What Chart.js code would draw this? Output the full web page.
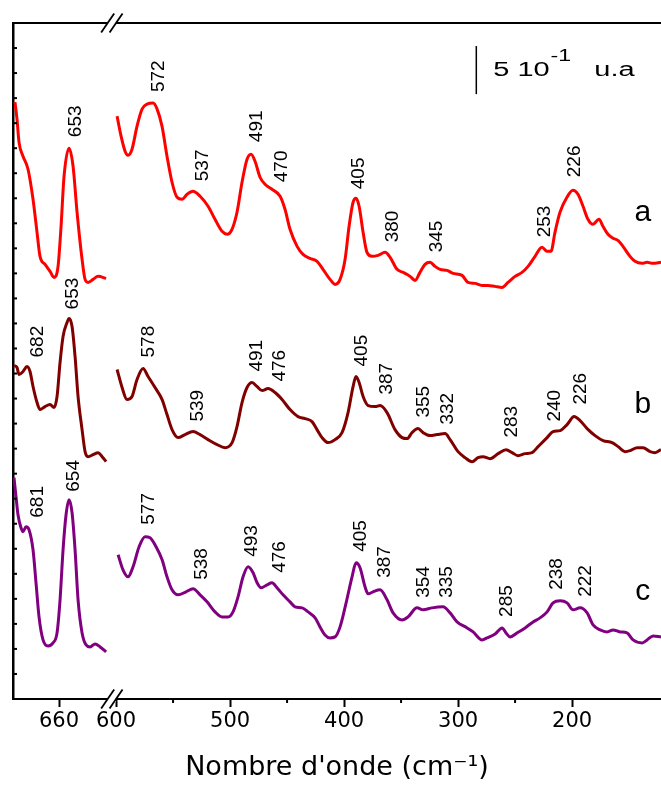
<!DOCTYPE html>
<html><head><meta charset="utf-8">
<script src="https://cdn.jsdelivr.net/npm/chart.js@4.4.1/dist/chart.umd.min.js"></script>
<style>html,body{margin:0;padding:0;background:#fff;}#wrap{position:relative;width:661px;height:785px;}</style>
</head><body><div id="wrap"><canvas id="c"></canvas></div>
<script>
// ---------- data (wavenumber in cm-1, intensity in arbitrary offset units) ----------
const aLeftWn = [690.8, 689.4, 688.0, 685.2, 681.7, 678.2, 675.4, 673.3, 669.8, 666.3, 663.5, 660.7, 658.6, 656.5, 653.0, 650.2, 647.4, 643.9, 641.8, 639.7, 636.2, 632.7, 627.1];
const aLeftI  = [23.84, 23.16, 22.24, 21.68, 21.16, 19.96, 18.64, 17.68, 17.36, 17.08, 16.84, 17.28, 18.88, 20.88, 22.0, 21.28, 19.44, 17.56, 16.76, 16.64, 16.76, 16.88, 16.8];
const aRightWn = [599.1, 595.6, 592.1, 589.5, 586.0, 581.6, 577.2, 572.8, 567.5, 564.0, 559.7, 555.3, 550.9, 546.5, 542.1, 537.7, 532.5, 526.3, 519.3, 513.2, 507.0, 502.6, 498.3, 493.9, 489.5, 485.1, 481.6, 478.1, 473.7, 469.3, 463.2, 456.1, 451.8, 447.4, 441.2, 436.0, 429.9, 423.7, 418.5, 412.3, 407.9, 403.5, 399.1, 395.6, 392.1, 389.5, 386.8, 383.3, 379.9, 375.4, 370.2, 364.0, 359.6, 353.5, 348.2, 342.1, 337.7, 333.4, 329.0, 324.6, 320.2, 315.8, 309.7, 304.4, 296.5, 291.3, 285.1, 279.0, 273.7, 267.6, 261.4, 256.2, 250.0, 243.9, 238.6, 232.5, 226.4, 222.0, 218.5, 215.0, 210.6, 204.5, 199.2, 194.8, 190.4, 186.1, 181.7, 176.4, 172.9, 168.5, 164.1, 159.8, 155.4, 149.2, 144.8, 138.7, 134.3, 129.1, 122.0];
const aRightI  = [23.28, 22.48, 21.88, 21.72, 21.96, 22.88, 23.56, 23.76, 23.80, 23.56, 22.88, 21.68, 20.64, 20.04, 19.96, 20.16, 20.28, 20.08, 19.68, 19.16, 18.68, 18.56, 18.76, 19.44, 20.64, 21.56, 21.76, 21.48, 20.84, 20.56, 20.36, 20.08, 19.56, 18.76, 18.08, 17.76, 17.60, 17.48, 17.16, 16.76, 16.56, 16.76, 17.56, 18.88, 19.84, 20.00, 19.68, 18.64, 17.84, 17.68, 17.72, 17.84, 17.64, 17.16, 17.04, 16.88, 16.72, 17.04, 17.36, 17.44, 17.28, 17.16, 17.12, 17.00, 16.92, 16.64, 16.60, 16.52, 16.52, 16.48, 16.44, 16.64, 16.88, 17.04, 17.28, 17.68, 18.04, 17.88, 17.88, 18.64, 19.44, 20.04, 20.32, 20.16, 19.68, 19.16, 18.96, 19.16, 18.88, 18.56, 18.40, 18.32, 18.08, 17.68, 17.48, 17.40, 17.44, 17.40, 17.44];

const bLeftWn = [691.5, 689.4, 688.0, 685.2, 682.4, 680.3, 678.2, 675.4, 673.3, 669.8, 666.3, 663.5, 661.4, 659.3, 657.2, 654.4, 653.0, 650.9, 648.8, 646.7, 643.9, 641.8, 639.7, 636.2, 632.7, 629.9, 627.1];
const bLeftI  = [13.32, 13.24, 12.96, 13.08, 13.28, 13.08, 12.48, 11.84, 11.56, 11.68, 11.76, 11.64, 12.08, 13.44, 14.48, 15.04, 15.20, 14.88, 13.68, 12.08, 10.76, 9.88, 9.68, 9.76, 9.84, 9.68, 9.48];
const bRightWn = [599.1, 594.7, 590.4, 586.0, 581.6, 576.3, 571.9, 565.8, 559.6, 555.3, 550.9, 545.6, 539.5, 532.5, 526.3, 519.3, 511.4, 504.4, 498.2, 493.9, 489.5, 485.1, 480.7, 476.3, 471.9, 466.7, 460.5, 454.4, 447.4, 440.4, 434.2, 428.1, 423.7, 419.3, 414.0, 407.9, 401.8, 396.5, 392.1, 389.5, 386.8, 383.3, 378.9, 372.8, 368.4, 362.3, 355.3, 349.1, 344.7, 340.4, 335.1, 330.7, 324.6, 318.4, 311.4, 307.0, 300.0, 293.9, 287.7, 282.5, 278.1, 271.9, 264.9, 257.9, 252.6, 247.4, 241.2, 235.1, 229.8, 221.9, 216.7, 210.5, 204.4, 198.2, 193.0, 186.8, 179.8, 172.8, 164.9, 159.6, 153.5, 149.1, 142.9, 137.7, 131.6, 127.2, 122.0];
const bRightI  = [13.16, 12.44, 11.96, 12.08, 12.76, 13.20, 12.88, 12.44, 11.96, 11.36, 10.76, 10.44, 10.56, 10.68, 10.56, 10.36, 10.16, 10.04, 10.24, 10.88, 11.84, 12.44, 12.64, 12.48, 12.32, 12.40, 12.24, 11.96, 11.56, 11.28, 11.20, 11.08, 10.76, 10.44, 10.24, 10.36, 10.64, 11.44, 12.48, 12.88, 12.64, 12.08, 11.72, 11.68, 11.72, 11.44, 10.76, 10.44, 10.40, 10.64, 10.80, 10.64, 10.52, 10.56, 10.60, 10.36, 9.88, 9.64, 9.48, 9.64, 9.68, 9.60, 9.80, 9.96, 9.84, 9.72, 9.80, 9.84, 10.08, 10.44, 10.68, 10.72, 10.96, 11.28, 11.12, 10.80, 10.52, 10.32, 10.24, 10.08, 9.88, 9.92, 10.04, 10.04, 9.88, 9.84, 9.96];

const cLeftWn = [691.5, 690.1, 688.7, 686.6, 685.2, 683.1, 681.0, 678.2, 676.1, 674.0, 671.2, 667.7, 664.2, 661.4, 659.3, 657.2, 655.1, 653.0, 650.9, 648.8, 646.7, 643.9, 641.1, 638.3, 634.8, 631.3, 627.1];
const cLeftI  = [8.84, 8.08, 7.36, 6.84, 6.68, 6.88, 6.76, 5.96, 4.64, 3.28, 2.36, 2.12, 2.24, 2.64, 3.96, 5.96, 7.36, 7.96, 7.44, 5.96, 3.96, 2.64, 2.16, 2.08, 2.20, 2.08, 1.88];
const cRightWn = [598.2, 593.9, 589.5, 585.1, 579.8, 574.6, 570.2, 564.9, 559.6, 555.3, 550.9, 545.6, 538.6, 532.5, 526.3, 520.2, 513.2, 507.0, 501.8, 497.4, 493.0, 488.6, 484.2, 479.8, 476.3, 472.8, 467.5, 463.2, 458.8, 453.5, 447.4, 443.0, 436.8, 431.6, 425.4, 421.1, 416.7, 412.3, 407.9, 403.5, 398.2, 393.0, 389.5, 386.0, 381.6, 378.9, 374.6, 368.4, 362.3, 357.0, 349.1, 343.9, 336.0, 330.7, 322.8, 313.2, 307.0, 300.9, 292.1, 286.8, 278.9, 274.6, 267.5, 261.4, 257.9, 254.4, 248.2, 241.2, 234.2, 228.1, 221.9, 216.7, 210.5, 204.4, 199.1, 193.0, 186.8, 181.6, 175.4, 169.3, 164.0, 157.9, 151.8, 146.5, 138.6, 134.2, 128.9, 122.0];
const cRightI  = [5.76, 5.16, 4.88, 5.28, 6.08, 6.48, 6.44, 6.08, 5.56, 4.88, 4.36, 4.16, 4.28, 4.40, 4.16, 3.88, 3.48, 3.28, 3.28, 3.48, 4.08, 4.88, 5.28, 5.04, 4.64, 4.44, 4.56, 4.64, 4.44, 4.16, 3.88, 3.68, 3.64, 3.48, 3.24, 2.88, 2.56, 2.44, 2.48, 2.88, 3.84, 4.88, 5.44, 5.24, 4.48, 4.20, 4.28, 4.36, 3.96, 3.44, 3.16, 3.28, 3.64, 3.56, 3.64, 3.68, 3.44, 3.08, 2.84, 2.68, 2.36, 2.44, 2.60, 2.84, 2.64, 2.48, 2.64, 2.84, 3.08, 3.24, 3.48, 3.84, 3.92, 3.84, 3.56, 3.64, 3.44, 2.96, 2.76, 2.68, 2.76, 2.68, 2.64, 2.36, 2.24, 2.36, 2.52, 2.48];

// peak annotations: text, anchor wavenumber on the drawn axis, intensity at label foot
const aPeakText = ['653', '572', '537', '491', '470', '405', '380', '345', '253', '226'];
const aPeakWn   = [649.5, 564.0, 525.4, 478.1, 456.1, 388.6, 358.8, 320.2, 225.4, 199.1];
const aPeakI    = [22.44, 24.24, 20.68, 22.24, 20.64, 20.36, 18.24, 17.84, 18.44, 20.84];
const bPeakText = ['682', '653', '578', '539', '491', '476', '405', '387', '355', '332', '283', '240', '226'];
const bPeakWn   = [676.1, 651.6, 572.8, 529.8, 478.1, 457.9, 386.0, 364.0, 331.6, 310.5, 254.4, 216.7, 193.9];
const bPeakI    = [13.64, 15.56, 13.64, 11.08, 13.08, 12.68, 13.28, 12.16, 11.24, 10.96, 10.44, 11.08, 11.76];
const cPeakText = ['681', '654', '577', '538', '493', '476', '405', '387', '354', '335', '285', '238', '222'];
const cPeakWn   = [676.1, 650.9, 572.8, 526.3, 482.5, 457.9, 386.8, 365.8, 331.6, 311.4, 258.8, 214.9, 189.5];
const cPeakI    = [7.24, 8.28, 6.96, 4.76, 5.68, 5.04, 5.88, 4.84, 4.04, 4.04, 3.28, 4.36, 4.08];

const seriesNames = ['a', 'b', 'c'];
const seriesNameWn = 138;
const seriesNameI = [19.08, 11.44, 3.96];

const xTickWn = [660, 600, 550, 500, 450, 400, 350, 300, 250, 200];
const xTickLabels = ['660', '600', '', '500', '', '400', '', '300', '', '200'];
const xEdgeWn = [692.2, 122.0];
const breakWn = [626.0, 600.0];
const yRange = [0, 27];
const scaleBarWn = 284;
const scaleBarI = [24.16, 26.08];

// ---------- broken axis mapping: two segments onto one linear scale ----------
function wnToU(w) { return w > 612 ? 40.35 + (660 - w) * 1.2544 : 90.35 + (600 - w); }
function seg(wn, iv) { return wn.map((w, i) => ({ x: wnToU(w), y: iv[i] })); }
function series(lw, li, rw, ri) {
  const gap = { x: (wnToU(lw[lw.length - 1]) + wnToU(rw[0])) / 2, y: null };
  return [...seg(lw, li), gap, ...seg(rw, ri)];
}

const colors = ['#ff0000', '#800000', '#800080'];
const peaks = [
  [aPeakText, aPeakWn, aPeakI],
  [bPeakText, bPeakWn, bPeakI],
  [cPeakText, cPeakWn, cPeakI]
];

const decor = {
  id: 'decor',
  afterDraw(chart) {
    const { ctx, chartArea: a, scales: { x, y } } = chart;
    const line = (x1, y1, x2, y2) => { ctx.beginPath(); ctx.moveTo(x1, y1); ctx.lineTo(x2, y2); ctx.stroke(); };
    ctx.save();
    ctx.strokeStyle = '#000';
    ctx.lineWidth = 2;
    line(a.left - 1, a.top, a.right, a.top);
    // inward ticks on the intensity axis
    y.ticks.forEach(t => { const py = y.getPixelForValue(t.value); line(a.left, py, a.left + 4, py); });
    // minor ticks on the wavenumber axis
    x.ticks.forEach((t, i) => {
      if (!xTickLabels[i]) { const px = x.getPixelForValue(t.value); line(px, a.bottom, px, a.bottom + 4); }
    });
    // axis break marks
    const b1 = x.getPixelForValue(wnToU(breakWn[0]));
    const b2 = x.getPixelForValue(wnToU(breakWn[1]));
    ctx.fillStyle = '#fff';
    [a.top, a.bottom].forEach(yy => {
      ctx.fillRect(b1, yy - 3, b2 - b1, 6);
      ctx.lineWidth = 1.8;
      [b1, b2].forEach(bx => line(bx - 6.5, yy + 9.5, bx + 6.5, yy - 9.5));
    });
    // scale bar
    const sx = x.getPixelForValue(wnToU(scaleBarWn));
    const sy1 = y.getPixelForValue(scaleBarI[0]);
    const sy2 = y.getPixelForValue(scaleBarI[1]);
    ctx.lineWidth = 1.5;
    line(sx, sy1, sx, sy2);
    ctx.fillStyle = '#000';
    ctx.save();
    ctx.translate(sx + 17, (sy1 + sy2) / 2 + 6);
    ctx.scale(1.45, 1);
    ctx.textAlign = 'left'; ctx.textBaseline = 'alphabetic';
    ctx.font = '20px "Liberation Sans", Arial, sans-serif';
    ctx.fillText('5 10', 0, 0);
    let w = ctx.measureText('5 10').width;
    ctx.font = '16px "Liberation Sans", Arial, sans-serif';
    ctx.fillText('-1', w + 0.5, -15);
    w += ctx.measureText('-1').width + 0.5;
    ctx.font = '20px "Liberation Sans", Arial, sans-serif';
    ctx.fillText('u.a', w + 16, 0);
    ctx.restore();
    // peak labels (rotated)
    ctx.font = '19px "Liberation Sans", Arial, sans-serif';
    ctx.textAlign = 'left'; ctx.textBaseline = 'alphabetic';
    peaks.forEach(([txt, wn, iv]) => {
      txt.forEach((t, i) => {
        const px = x.getPixelForValue(wnToU(wn[i]));
        const py = y.getPixelForValue(iv[i]);
        ctx.save(); ctx.translate(px, py); ctx.rotate(-Math.PI / 2);
        ctx.fillText(t, 0, 6.8);
        ctx.restore();
      });
    });
    // series letters
    ctx.font = '30px "Liberation Sans", Arial, sans-serif';
    ctx.textAlign = 'center';
    seriesNames.forEach((n, i) => {
      ctx.fillText(n, x.getPixelForValue(wnToU(seriesNameWn)), y.getPixelForValue(seriesNameI[i]));
    });
    ctx.restore();
  }
};

Chart.defaults.color = '#000';
new Chart(document.getElementById('c'), {
  type: 'line',
  data: {
    datasets: [
      { label: seriesNames[0], data: series(aLeftWn, aLeftI, aRightWn, aRightI), borderColor: colors[0] },
      { label: seriesNames[1], data: series(bLeftWn, bLeftI, bRightWn, bRightI), borderColor: colors[1] },
      { label: seriesNames[2], data: series(cLeftWn, cLeftI, cRightWn, cRightI), borderColor: colors[2] }
    ]
  },
  options: {
    responsive: true,
    maintainAspectRatio: false,
    animation: false,
    events: [],
    spanGaps: false,
    layout: { padding: { top: 23, right: 0, bottom: 0, left: 0 } },
    elements: {
      line: { borderWidth: 3, cubicInterpolationMode: 'monotone', fill: false },
      point: { radius: 0 }
    },
    plugins: { legend: { display: false }, tooltip: { enabled: false } },
    scales: {
      x: {
        type: 'linear',
        min: wnToU(xEdgeWn[0]),
        max: wnToU(xEdgeWn[1]),
        afterBuildTicks: s => { s.ticks = xTickWn.map(w => ({ value: wnToU(w) })); },
        afterFit: s => { s.height = 86; },
        ticks: {
          autoSkip: false, maxRotation: 0, minRotation: 0, padding: 2,
          font: { family: 'DejaVu Sans', size: 21 }, color: '#000',
          callback: (v, i) => xTickLabels[i]
        },
        grid: {
          display: true, drawOnChartArea: false, drawTicks: true, tickLength: 8, tickWidth: 2,
          tickColor: c => (xTickLabels[c.index] ? '#000' : 'rgba(0,0,0,0)')
        },
        border: { display: true, color: '#000', width: 2 },
        title: {
          display: true, text: "Nombre d'onde (cm⁻¹)", color: '#000',
          font: { family: 'DejaVu Sans', size: 27 }, padding: { top: 0, bottom: 1 }
        }
      },
      y: {
        type: 'linear',
        min: yRange[0], max: yRange[1],
        afterFit: s => { s.width = 13; },
        ticks: { display: false, stepSize: 1 },
        grid: { display: false },
        border: { display: true, color: '#000', width: 2.5 }
      }
    }
  },
  plugins: [decor]
});
</script>
</body></html>
